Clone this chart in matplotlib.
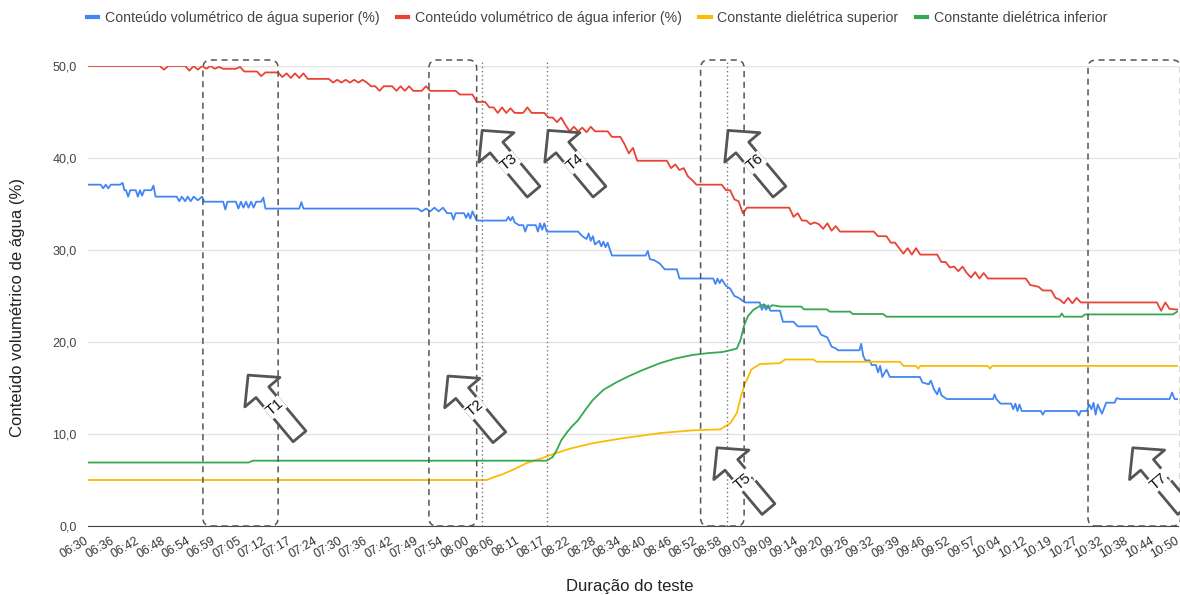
import numpy as np
import matplotlib.pyplot as plt
import matplotlib.transforms as mtransforms
from matplotlib.patches import FancyBboxPatch
from matplotlib.lines import Line2D

plt.rcParams['font.family'] = ['Liberation Sans', 'DejaVu Sans']

# rotulos do eixo x (um a cada 6 leituras)
horarios = ['06:30', '06:36', '06:42', '06:48', '06:54', '06:59', '07:05', '07:12', '07:17', '07:24',
            '07:30', '07:36', '07:42', '07:49', '07:54', '08:00', '08:06', '08:11', '08:17', '08:22',
            '08:28', '08:34', '08:40', '08:46', '08:52', '08:58', '09:03', '09:09', '09:14', '09:20',
            '09:26', '09:32', '09:39', '09:46', '09:52', '09:57', '10:04', '10:12', '10:19', '10:27',
            '10:32', '10:38', '10:44', '10:50']
passo = 6

# (leitura, valor)
agua_superior = [(0, 37.1), (3, 37.1), (3.6, 36.7), (4.2, 37.1), (4.8, 36.7), (5.4, 37.1), (7.6, 37.1),
                 (8.2, 37.3), (8.6, 36.5), (9, 36.5), (9.5, 35.8), (10, 36.5), (11.3, 36.5), (11.8, 35.8),
                 (12.3, 36.5), (12.8, 35.9), (13.3, 36.5), (15, 36.5), (15.5, 37.0), (16, 35.8), (21, 35.8),
                 (21.6, 35.3), (22.2, 35.8), (23, 35.3), (23.6, 35.8), (24.3, 35.3), (25, 35.8), (26, 35.4),
                 (27, 35.8), (27.5, 35.25), (32, 35.25), (32.5, 34.4), (33, 35.25), (35, 35.25), (35.6, 34.5),
                 (36.2, 35.25), (36.8, 34.6), (37.4, 35.25), (38, 34.6), (38.6, 35.25), (39.2, 34.6),
                 (39.8, 35.25), (41, 35.25), (41.5, 35.7), (42, 34.5), (50, 34.5), (50.5, 35.2), (51, 34.5),
                 (78, 34.5), (79, 34.2), (80, 34.5), (81, 34.2), (82, 34.6), (83, 34.2), (84, 34.6), (85, 34.0),
                 (86, 34.0), (86.5, 33.3), (87, 34.0), (89, 34.0), (89.5, 33.5), (90, 34.0), (90.5, 33.4),
                 (91, 34.2), (92, 33.2), (99, 33.2), (99.5, 33.6), (100, 33.2), (100.5, 33.6), (101, 33.0),
                 (102, 32.7), (103, 32.7), (103.5, 32.0), (104, 32.7), (106, 32.7), (106.5, 32.0), (107, 32.9),
                 (107.5, 32.2), (108, 32.9), (108.6, 32.0), (116, 32.0), (117, 31.5), (118, 31.2), (118.5, 31.8),
                 (119, 31.0), (119.5, 31.5), (120, 30.6), (121, 31.0), (121.5, 30.4), (122, 30.9), (122.5, 30.3),
                 (123, 30.8), (124, 29.4), (132, 29.4), (132.5, 29.9), (133, 29.0), (134, 28.9), (135.4, 28.5),
                 (136.5, 27.9), (139.4, 27.9), (140, 26.9), (148, 26.9), (148.5, 26.3), (149, 26.9),
                 (149.5, 26.4), (150, 26.8), (151, 26.1), (152, 25.8), (153, 25.0), (154, 24.8), (155.5, 24.3),
                 (159, 24.3), (159.5, 23.5), (160, 24.0), (160.5, 23.5), (161, 24.0), (161.5, 23.4),
                 (163.8, 23.4), (164.5, 22.2), (167, 22.2), (168, 21.7), (172.5, 21.7), (173.5, 20.8),
                 (175, 20.5), (176, 19.5), (177, 19.3), (177.5, 19.1), (182.6, 19.1), (183, 19.8), (183.5, 18.5),
                 (184, 18.0), (185, 18.0), (185.5, 17.5), (186.5, 17.5), (187, 16.7), (187.5, 17.4), (188, 16.2),
                 (189, 17.0), (189.8, 16.2), (196.9, 16.2), (197.5, 15.6), (199, 15.4), (199.5, 15.8),
                 (200.2, 14.9), (201, 14.3), (201.5, 15.0), (202, 14.2), (203.3, 13.8), (214.2, 13.8),
                 (214.6, 14.3), (215, 13.8), (216, 13.3), (218.5, 13.3), (219, 12.7), (219.5, 13.3), (220, 12.5),
                 (220.5, 13.2), (221, 12.5), (225.5, 12.5), (226, 12.1), (226.5, 12.5), (234, 12.5), (234.5, 12.0),
                 (235, 12.5), (236.4, 12.5), (237, 13.2), (237.5, 12.7), (238, 13.4), (238.5, 12.1), (239, 13.2),
                 (240, 12.2), (241, 13.4), (243, 13.4), (243.5, 13.9), (244.3, 13.8), (256, 13.8), (256.6, 14.5),
                 (257.2, 13.8), (258.5, 13.8)]

agua_inferior = [(0, 50.0), (17, 50.0), (18, 49.6), (19, 50.0), (23, 50.0), (24, 49.5), (25, 50.0), (26, 49.6),
                 (27, 50.0), (28, 49.7), (29, 50.0), (30, 49.7), (31, 49.9), (32, 49.7), (35, 49.7), (36, 49.9),
                 (37, 49.4), (40, 49.4), (41, 48.9), (42, 49.3), (45, 49.3), (46, 48.8), (47, 49.2), (48, 48.7),
                 (49, 49.2), (50, 48.7), (51, 49.2), (52, 48.6), (57, 48.6), (58, 48.2), (59, 48.5), (60, 48.2),
                 (61, 48.5), (62, 48.2), (63, 48.5), (64, 48.2), (65, 48.5), (66, 48.2), (67, 47.8), (68, 47.8),
                 (69, 47.3), (70, 47.8), (72, 47.8), (73, 47.3), (74, 47.8), (75, 47.3), (76, 47.8), (77, 47.3),
                 (79, 47.3), (80, 47.8), (81, 47.3), (87, 47.3), (88, 46.9), (91, 46.9), (92, 46.1), (94, 46.1),
                 (95, 45.5), (96, 45.5), (97, 44.9), (98, 45.5), (99, 44.9), (100, 45.4), (101, 44.9),
                 (103, 44.9), (104, 45.5), (105, 44.9), (108, 44.9), (109, 44.4), (110, 44.4), (111, 43.9),
                 (112, 44.4), (113, 43.6), (114, 42.9), (115, 43.4), (116, 42.9), (117, 43.3), (118, 42.8),
                 (119, 43.4), (120, 42.9), (123, 42.9), (124, 42.3), (126, 42.3), (127, 41.5), (128, 40.5),
                 (129, 41.1), (130, 39.7), (137, 39.7), (138, 38.9), (139, 39.3), (140, 38.7), (141, 38.9),
                 (142, 38.0), (143, 37.6), (144, 37.1), (150, 37.1), (151, 36.5), (152, 36.5), (153, 35.5),
                 (154, 35.3), (155, 34.0), (156, 34.6), (166, 34.6), (167, 33.6), (168, 34.0), (169, 33.2),
                 (170, 33.2), (171, 32.8), (172, 33.0), (173, 32.8), (174, 32.3), (175, 32.9), (176, 32.1),
                 (177, 32.6), (178, 32.0), (186, 32.0), (187, 31.5), (189, 31.5), (190, 30.8), (191, 30.8),
                 (192, 30.2), (193, 29.6), (194, 30.2), (195, 29.5), (196, 30.2), (197, 29.5), (201, 29.5),
                 (202, 28.7), (203, 28.7), (204, 28.1), (205, 28.2), (206, 27.7), (207, 28.2), (208, 27.5),
                 (209, 27.0), (210, 27.6), (211, 26.9), (212, 27.5), (213, 26.9), (222, 26.9), (223, 26.2),
                 (225, 26.0), (226, 25.6), (228, 25.6), (229, 24.8), (230, 24.6), (231, 24.2), (232, 24.8),
                 (233, 24.2), (234, 24.8), (235, 24.3), (253, 24.3), (254, 23.4), (255, 24.3), (256, 23.6),
                 (258.5, 23.5)]

dieletrica_superior = [(0, 5.0), (94.4, 5.0), (96, 5.3), (98, 5.6), (101, 6.2), (103.9, 6.85), (107, 7.3),
                       (110, 7.8), (114, 8.4), (119.5, 9.0), (126, 9.5), (135.4, 10.1), (143.2, 10.4),
                       (149.6, 10.5), (152, 11.15), (153.6, 12.3), (154.5, 14.0), (155.5, 15.5), (156, 15.9),
                       (157, 17.0), (159, 17.6), (163.8, 17.7), (165, 18.1), (171.6, 18.1), (172.5, 17.85),
                       (192.2, 17.85), (193, 17.4), (196, 17.4), (196.5, 17.1), (197, 17.4), (213, 17.4),
                       (213.5, 17.1), (214, 17.4), (258.5, 17.4)]

dieletrica_inferior = [(0, 6.9), (38, 6.9), (39, 7.1), (108.6, 7.1), (110, 7.5), (111, 8.3), (112, 9.3),
                       (113.4, 10.2), (114.5, 10.8), (116, 11.5), (118, 12.8), (119.5, 13.7), (122, 14.8),
                       (125, 15.6), (127.6, 16.2), (131, 16.9), (135.4, 17.7), (139, 18.2), (143.2, 18.6),
                       (147, 18.8), (150, 18.9), (152, 19.1), (153.6, 19.3), (154.5, 20.3), (155.3, 21.8),
                       (156.2, 22.8), (157.5, 23.5), (159, 23.9), (160, 24.1), (161, 23.7), (162, 24.0),
                       (164, 23.85), (168.8, 23.85), (169.5, 23.55), (174.9, 23.55), (175.5, 23.3), (180.4, 23.3),
                       (181, 23.04), (188.2, 23.04), (189, 22.75), (230, 22.75), (230.5, 23.1), (231, 22.75),
                       (235.3, 22.75), (236, 23.0), (256.8, 23.0), (258.5, 23.5)]

series = [agua_superior, agua_inferior, dieletrica_superior, dieletrica_inferior]
nomes = ['Conteúdo volumétrico de água superior (%)', 'Conteúdo volumétrico de água inferior (%)',
         'Constante dielétrica superior', 'Constante dielétrica inferior']
cores = ['#4285f4', '#ea4335', '#fbbc04', '#34a853']

# anotacoes: caixas tracejadas, linhas pontilhadas e setas
caixas = [(27.2, 45.0), (80.7, 92.0), (145.0, 155.3), (236.7, 258.6)]
pontilhadas = [93.3, 108.6, 151.2]
setas = ['T1', 'T2', 'T3', 'T4', 'T5,', 'T6', 'T7,']
setas_x = [37.9, 85.2, 93.3, 108.9, 148.9, 151.5, 247.3]
setas_y = [16.4, 16.3, 43.0, 43.0, 8.5, 43.0, 8.5]

fig = plt.figure(figsize=(11.8, 5.95), dpi=100)
ax = fig.add_axes([88 / 1180, 69 / 595, 1090 / 1180, 460 / 595])

for s, c in zip(series, cores):
    x, y = np.array(s).T
    ax.plot(x, y, color=c, lw=1.3, zorder=3)

ax.set_xlim(0, 258)
ax.set_ylim(0, 50)
yt = np.arange(0, 51, 10)
ax.set_yticks(yt)
ax.set_yticklabels([f'{v:.1f}'.replace('.', ',') for v in yt], fontsize=9, color='#444')
ax.set_xticks(np.arange(len(horarios)) * passo)
ax.set_xticklabels(horarios, rotation=30, ha='right', va='center', rotation_mode='anchor',
                   fontsize=8.8, color='#333')
desloc = mtransforms.ScaledTranslation(-3 / 100, 0, fig.dpi_scale_trans)
for lbl in ax.get_xticklabels():
    lbl.set_transform(lbl.get_transform() + desloc)
ax.tick_params(length=0)
ax.tick_params(axis='x', pad=10)
ax.tick_params(axis='y', pad=8)
ax.grid(axis='y', color='#e4e4e4', lw=1)
ax.set_axisbelow(True)
for lado in ['top', 'right', 'left']:
    ax.spines[lado].set_visible(False)
ax.spines['bottom'].set_color('#444')

# caixas com cantos arredondados
px_x = 258 / 1090
px_y = 50 / 460
for x0, x1 in caixas:
    b = FancyBboxPatch((x0, 0), x1 - x0, 50.65, boxstyle=f'round,pad=0,rounding_size={8 * px_x}',
                       mutation_aspect=px_y / px_x, fc='none', ec='#555', lw=1.1,
                       ls=(0, (4, 3)), clip_on=False, zorder=4)
    ax.add_patch(b)

for xp in pontilhadas:
    ax.plot([xp, xp], [0, 50.65], color='#777', lw=1, ls=(0, (1, 2)), clip_on=False, zorder=4)

ang = np.deg2rad(-50)
for nome, xs, ys in zip(setas, setas_x, setas_y):
    ax.annotate('', xy=(xs, ys), xytext=(80 * np.cos(ang), 80 * np.sin(ang)), textcoords='offset pixels',
                arrowprops=dict(arrowstyle='simple,head_length=1.6,head_width=3.3,tail_width=1.2',
                                fc='white', ec='#555', lw=2, shrinkA=0, shrinkB=0, mutation_scale=10),
                annotation_clip=False, zorder=5)
    ax.annotate(nome, xy=(xs, ys), xytext=(42 * np.cos(ang), 42 * np.sin(ang)), textcoords='offset pixels',
                rotation=40, ha='center', va='center', fontsize=11, color='#111',
                bbox=dict(fc='white', ec='none', pad=0.5), annotation_clip=False, zorder=6)

handles = [Line2D([], [], color=c, lw=3) for c in cores]
fig.legend(handles, nomes, loc='center', bbox_to_anchor=(597 / 1180, 1 - 18 / 595), ncol=4,
           frameon=False, fontsize=10.2, handlelength=0.8, handletextpad=0.45, columnspacing=1.25,
           labelcolor='#444')

fig.text(18 / 1180, 1 - 307 / 595, 'Conteúdo volumétrico de água (%)', rotation=90,
         ha='center', va='center', fontsize=12, color='#222')
fig.text(630 / 1180, 1 - 587 / 595, 'Duração do teste', ha='center', va='center', fontsize=12, color='#222')

fig.savefig('out.png', dpi=100)
